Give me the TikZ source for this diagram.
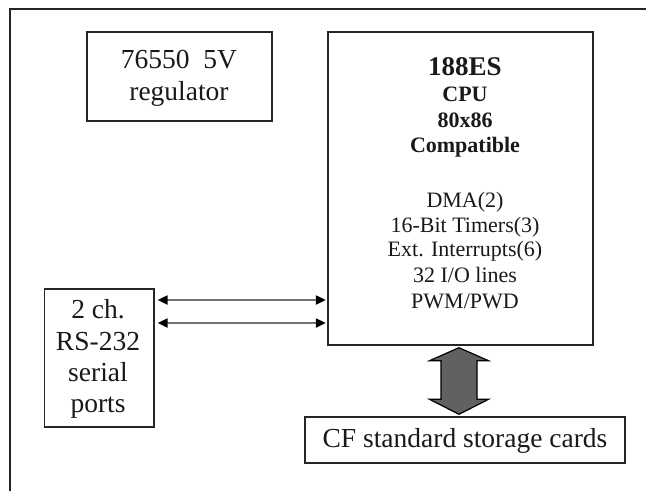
\documentclass[tikz,border=0pt]{standalone}
\usepackage{fontspec}
\setmainfont{Liberation Serif}
\usetikzlibrary{arrows.meta,calc}
\begin{document}
\begin{tikzpicture}[x=1pt,y=-1pt,
  box/.style={draw=black!85, line width=1.4pt, rectangle, inner sep=0pt},
  big/.style={font=\fontsize{27.5}{32}\selectfont, anchor=base, inner sep=0pt, text=black!90},
  small/.style={font=\fontsize{22}{25}\selectfont, anchor=base, inner sep=0pt, text=black!90},
  bigb/.style={big, font=\fontsize{27}{32}\selectfont\bfseries},
  smallb/.style={small, font=\fontsize{22}{25}\selectfont\bfseries},
  link/.style={draw=black!55, line width=2.2pt,
    {Triangle[length=10pt,width=9pt,color=black]}-{Triangle[length=10pt,width=9pt,color=black]}},
  bigarrow/.style={draw=black, line width=1.2pt, fill=black!62, line join=miter}
]
\useasboundingbox (0,0) rectangle (646,491);
\fill[white] (0,0) rectangle (646,491);
\draw[black!85, line width=1.6pt] (10,491) -- (10,9) -- (646,9);

% boxes
\node[box, minimum width=185, minimum height=89] (reg) at (179.5,76.5) {};
\node[box, minimum width=265, minimum height=313] (cpu) at (460.5,188.5) {};
\node[box, minimum width=109.5, minimum height=138] (rs) at (99.25,358) {};
\node[box, minimum width=320, minimum height=46] (cf) at (465,440) {};

% regulator text
\node[big] (reg1) at (179,68) {76550\ \ 5V};
\node[big] (reg2) at (179,100) {regulator};

% cpu text
\node[bigb] (cpu1) at (465,75) {188ES};
\node[smallb] (cpu2) at (465,101) {CPU};
\node[smallb] (cpu3) at (465,127) {80x86};
\node[smallb] (cpu4) at (465,152) {Compatible};
\node[small] (cpu5) at (465,207) {DMA(2)};
\node[small] (cpu6) at (465,232) {16-Bit Timers(3)};
\node[small] (cpu7) at (465,256) {Ext. Interrupts(6)};
\node[small] (cpu8) at (465,282) {32 I/O lines};
\node[small] (cpu9) at (465,308) {PWM/PWD};

% serial text
\node[big] (rs1) at (98,318) {2 ch.};
\node[big] (rs2) at (98,350) {RS-232};
\node[big] (rs3) at (98,381) {serial};
\node[big] (rs4) at (98,412) {ports};

% CF text
\node[big] (cf1) at (465,447) {CF standard storage cards};

% serial links
\draw[link, shorten <=3pt, shorten >=1.5pt] (rs.east |- 0,300) -- (cpu.west |- 0,300);
\draw[link, shorten <=3pt, shorten >=1.5pt] (rs.east |- 0,323) -- (cpu.west |- 0,323);

% big double arrow between CPU and CF
\coordinate (T) at ($(cpu.south)+(-1.5,2)$);
\coordinate (B) at ($(cf.north)+(-6,-2)$);
\draw[bigarrow] (T) -- ++(29.5,13) -- ++(-11.5,0) -- ($(B)+(18,-15)$) -- ++(11.5,0)
  -- (B) -- ++(-29.5,-15) -- ++(11.5,0) -- ($(T)+(-18,13)$) -- ++(-11.5,0) -- cycle;
\end{tikzpicture}
\end{document}
